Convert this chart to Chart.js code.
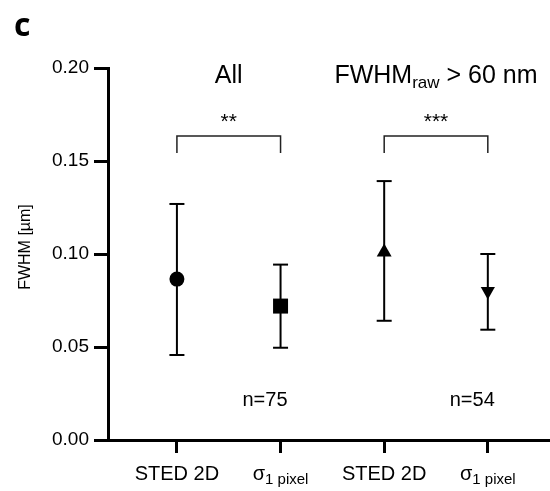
<!DOCTYPE html>
<html>
<head>
<meta charset="utf-8">
<script src="https://cdn.jsdelivr.net/npm/chart.js@4.4.0/dist/chart.umd.min.js"></script>
<style>
body { margin: 0; background: #fff; }
</style>
</head>
<body>
<canvas id="fwhmGraph" width="550" height="491"></canvas>
<script>
// ---- valeurs ----
const xPos = [1, 2, 3, 4];
const tickMain = ['STED 2D', 'σ', 'STED 2D', 'σ'];
const tickSub = ['', '1 pixel', '', '1 pixel'];
const moyennes = [0.0865, 0.0720, 0.1010, 0.0800];
const basses = [0.0457, 0.0496, 0.0641, 0.0593];
const hautes = [0.1269, 0.0943, 0.1392, 0.1000];
const yTicks = [0, 0.05, 0.10, 0.15, 0.20];

// groupes : titre, crochet de signif., effectif
const groupeX = [[1, 2], [3, 4]];
const etoiles = ['**', '***'];
const effectifs = ['n=75', 'n=54'];
const crochetHaut = 0.1634;
const crochetBas = 0.1543;

const FONT = '"Liberation Sans", Arial, sans-serif';

// ---- datasets ----
let datasets = [];

datasets.push({
    type: 'scatter',
    label: 'moyenne',
    data: xPos.map((x, i) => ({x: x, y: moyennes[i]})),
    pointStyle: ['circle', 'rect', 'triangle', 'triangle'],
    pointRadius: [7.5, 10.6, 8.6, 8.2],
    rotation: [0, 0, 0, 180],
    backgroundColor: '#000',
    borderColor: '#000',
    borderWidth: 0,
    order: 0
});

// barres d'erreur
for (let i = 0; i < xPos.length; i++) {
    datasets.push({
        type: 'line',
        label: 'erreur ' + i,
        data: [{x: xPos[i], y: basses[i]}, {x: xPos[i], y: hautes[i]}],
        borderColor: '#000',
        borderWidth: 2,
        pointRadius: 0,
        order: 2
    });
}

// embouts
datasets.push({
    type: 'scatter',
    label: 'embouts',
    data: xPos.map((x, i) => ({x: x, y: basses[i]})).concat(xPos.map((x, i) => ({x: x, y: hautes[i]}))),
    pointStyle: 'line',
    pointRadius: 7.5,
    borderColor: '#000',
    borderWidth: 2,
    order: 1
});

// crochets
for (let g = 0; g < groupeX.length; g++) {
    datasets.push({
        type: 'line',
        label: 'crochet ' + g,
        data: [
            {x: groupeX[g][0], y: crochetBas},
            {x: groupeX[g][0], y: crochetHaut},
            {x: groupeX[g][1], y: crochetHaut},
            {x: groupeX[g][1], y: crochetBas}
        ],
        borderColor: '#222',
        borderWidth: 1.5,
        pointRadius: 0,
        order: 3
    });
}

// texte avec indice
function drawParts(ctx, parts, cx, base, align) {
    let w = 0;
    parts.forEach(p => { ctx.font = p.size + 'px ' + FONT; p.w = ctx.measureText(p.t).width; w += p.w; });
    let x = align === 'center' ? cx - w / 2 : cx;
    ctx.textAlign = 'left';
    parts.forEach(p => {
        ctx.font = p.size + 'px ' + FONT;
        ctx.fillText(p.t, x, base + (p.dy || 0));
        x += p.w;
    });
}

const textes = {
    id: 'textes',
    afterDraw(chart) {
        const ctx = chart.ctx;
        const sx = chart.scales.x;
        const sy = chart.scales.y;
        ctx.save();
        ctx.fillStyle = '#000';
        ctx.textBaseline = 'alphabetic';

        ctx.font = 'bold 32px "Open Sans", sans-serif';
        ctx.textAlign = 'left';
        ctx.fillText('c', 14, 36);

        // titre axe y
        ctx.save();
        ctx.translate(30, 247);
        ctx.rotate(-Math.PI / 2);
        ctx.font = '16px ' + FONT;
        ctx.textAlign = 'center';
        ctx.fillText('FWHM [µm]', 0, 0);
        ctx.restore();

        // titres des groupes
        drawParts(ctx, [{t: 'All', size: 25}], sx.getPixelForValue(1.5), sy.getPixelForValue(0.192), 'center');
        drawParts(ctx, [
            {t: 'FWHM', size: 25},
            {t: 'raw', size: 17, dy: 5},
            {t: ' > 60 nm', size: 25}
        ], sx.getPixelForValue(3.5), sy.getPixelForValue(0.192), 'center');

        // étoiles et effectifs
        for (let g = 0; g < groupeX.length; g++) {
            let mid = (groupeX[g][0] + groupeX[g][1]) / 2;
            drawParts(ctx, [{t: etoiles[g], size: 21}], sx.getPixelForValue(mid), sy.getPixelForValue(0.1678), 'center');
            drawParts(ctx, [{t: effectifs[g], size: 20}], sx.getPixelForValue(groupeX[g][1] - 0.15), sy.getPixelForValue(0.0183), 'center');
        }

        // étiquettes de l'axe x
        const base = chart.chartArea.bottom + 40;
        for (let i = 0; i < xPos.length; i++) {
            let parts = [{t: tickMain[i], size: 20}];
            if (tickSub[i] !== '')
                parts.push({t: tickSub[i], size: 15, dy: 4});
            drawParts(ctx, parts, sx.getPixelForValue(xPos[i]), base, 'center');
        }
        ctx.restore();
    }
};

var fwhm = new Chart(document.getElementById('fwhmGraph'),
{
    data: { datasets: datasets },
    options: {
        responsive: false,
        animation: false,
        layout: { autoPadding: false, padding: { top: 68, right: 0, bottom: 0, left: 0 } },
        plugins: {
            legend: { display: false },
            tooltip: { enabled: false }
        },
        scales: {
            x: {
                type: 'linear',
                min: 0.335,
                max: 4.6,
                afterBuildTicks: (axis) => { axis.ticks = xPos.map(v => ({value: v})); },
                afterFit: (axis) => { axis.height = 51; },
                ticks: { display: false },
                grid: { drawOnChartArea: false, drawTicks: true, tickLength: 13, tickWidth: 3, tickColor: '#000' },
                border: { display: true, color: '#000', width: 3 }
            },
            y: {
                min: 0,
                max: 0.2,
                afterBuildTicks: (axis) => { axis.ticks = yTicks.map(v => ({value: v})); },
                afterFit: (axis) => { axis.width = 108; },
                ticks: {
                    color: '#000',
                    padding: 5,
                    font: { family: FONT, size: 19 },
                    callback: (v) => v.toFixed(2)
                },
                grid: { drawOnChartArea: false, drawTicks: true, tickLength: 14, tickWidth: 3, tickColor: '#000' },
                border: { display: true, color: '#000', width: 3 }
            }
        }
    },
    plugins: [textes]
});
</script>
</body>
</html>
